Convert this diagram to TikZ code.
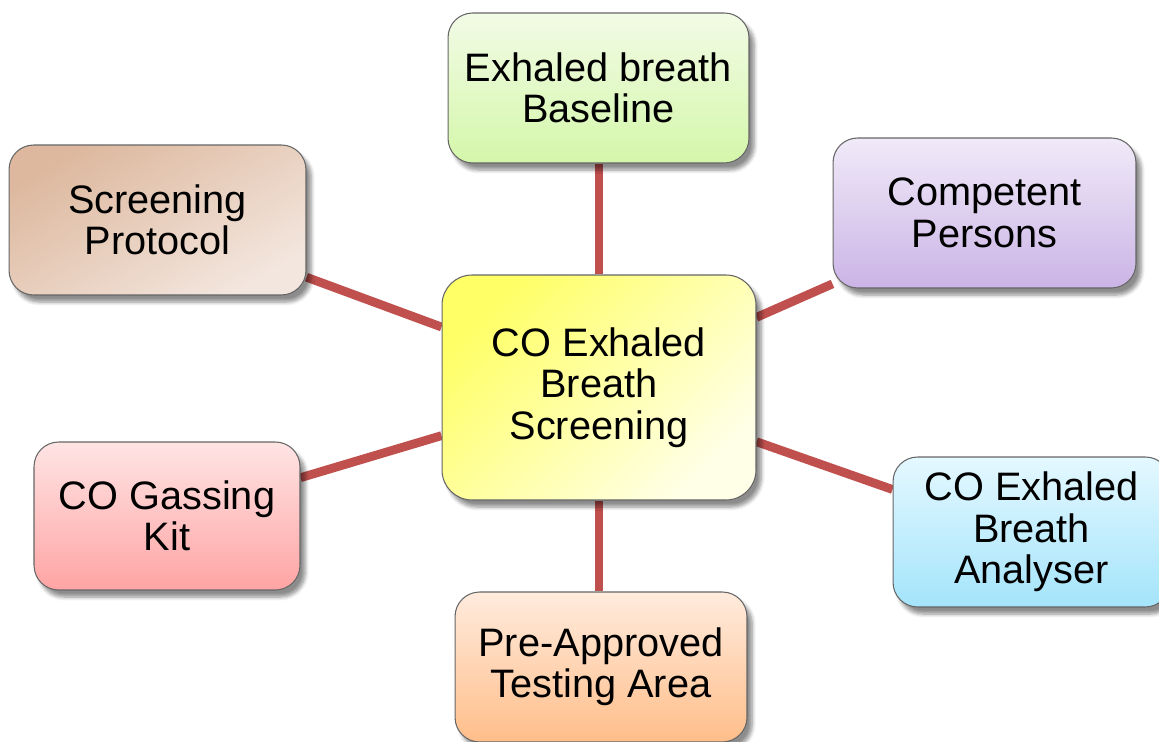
\documentclass[tikz,border=0pt]{standalone}
\usepackage{fontspec}
\setmainfont{Liberation Sans}
\usetikzlibrary{shadows.blur, backgrounds}

% box colours
\definecolor{linkred}{HTML}{C0504D}
\definecolor{mainA}{HTML}{FFFF66}  \definecolor{mainB}{HTML}{FFFFE8}
\definecolor{protA}{HTML}{DDB89E}  \definecolor{protB}{HTML}{F3E6DE}
\definecolor{baseA}{HTML}{F2FBE6}  \definecolor{baseB}{HTML}{D4F7AA}
\definecolor{compA}{HTML}{F0EAF8}  \definecolor{compB}{HTML}{CBB4E6}
\definecolor{gasA}{HTML}{FFE4E4}   \definecolor{gasB}{HTML}{FFA4A4}
\definecolor{anaA}{HTML}{E4F8FF}   \definecolor{anaB}{HTML}{A4E4FB}
\definecolor{areaA}{HTML}{FFEBDD}  \definecolor{areaB}{HTML}{FFBE8A}

\begin{document}
\begin{tikzpicture}[x=0.02cm, y=-0.02cm]
    % Define styles for boxes and links
    \tikzset{
        box/.style={draw=black!60, line width=0.6pt, rounded corners=14pt,
            align=center, inner sep=0pt, minimum height=3cm,
            font=\fontsize{22.6}{23.6}\selectfont,
            blur shadow={shadow xshift=3pt, shadow yshift=-4pt,
                shadow blur steps=6, shadow opacity=45}},
        link/.style={draw=linkred, line width=5pt}
    }
    \useasboundingbox (0,0) rectangle (1159,742);

    % ==========================================
    % CENTRE BOX
    % ==========================================
    \node[box, rounded corners=17pt, minimum width=6.28cm, minimum height=4.5cm,
          top color=mainA, bottom color=mainB, shading angle=45]
          (main) at (599,387.5) {CO Exhaled\\Breath\\Screening};

    % ==========================================
    % OUTER BOXES
    % ==========================================
    \node[box, minimum width=6.02cm, top color=baseA, bottom color=baseB]
          (base) at (598.5,88) {Exhaled breath\\Baseline};
    \node[box, minimum width=5.94cm, top color=protA, bottom color=protB,
          shading angle=30]
          (prot) at (157.5,220) {Screening\\Protocol};
    \node[box, minimum width=6.06cm, top color=compA, bottom color=compB]
          (comp) at (984.5,213) {Competent\\Persons};
    \node[box, minimum width=5.32cm, minimum height=2.96cm,
          top color=gasA, bottom color=gasB]
          (gas) at (167,516) {CO Gassing\\Kit};
    \node[box, minimum width=5.54cm, top color=anaA, bottom color=anaB]
          (ana) at (1031.5,532) {CO Exhaled\\Breath\\Analyser};
    \node[box, minimum width=5.84cm, top color=areaA, bottom color=areaB]
          (area) at (601,667) {Pre-Approved\\Testing Area};

    % ==========================================
    % LINKS (behind the boxes)
    % ==========================================
    \begin{scope}[on background layer]
        \draw[link] (main.north) -- (main.north |- base.south);
        \draw[link] (main.south) -- (main.south |- area.north);
        \draw[link] (prot.-21) -- (main.159);
        \draw[link] (comp.-155.2) -- (main.24.2);
        \draw[link] (gas.16.5) -- (main.-163.2);
        \draw[link] (ana.163) -- (main.-19.1);
    \end{scope}
\end{tikzpicture}
\end{document}
